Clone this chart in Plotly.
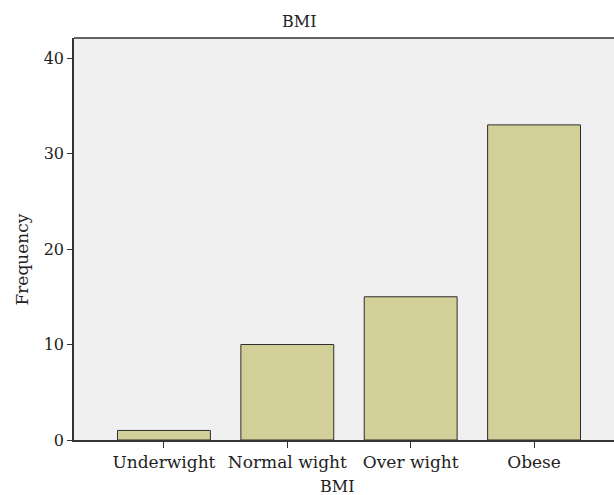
import plotly.graph_objects as go

categories = ["Underwight", "Normal wight", "Over wight", "Obese"]
frequency = [1, 10, 15, 33]
y_ticks = [0, 10, 20, 30, 40]

OFF = 8  # default page body margin
W, H = 614 - OFF + 20, 495 - OFF
L, R, T, B = 73.5 - OFF, 20, 38 - OFF, 495 - 440
pw = W - L - R
ph = H - T - B

def px_x(px):
    return (px - OFF - L) / pw

def px_y(py):
    return 1 - (py - OFF - T) / ph

FONT = "DejaVu Serif"
FS = 16

fig = go.Figure()
fig.add_trace(go.Bar(
    x=list(range(len(categories))),
    y=frequency,
    width=0.753,
    marker=dict(color="#d3cf98", line=dict(color="#2e2e2e", width=1)),
    hoverinfo="skip",
))

fig.update_layout(
    width=W, height=H,
    margin=dict(l=L, r=R, t=T, b=B, pad=0),
    paper_bgcolor="white",
    plot_bgcolor="#f0f0f0",
    showlegend=False,
    font=dict(family=FONT, size=FS, color="#222222"),
    xaxis=dict(
        range=[-0.729, 3.648],
        tickmode="array",
        tickvals=list(range(len(categories))),
        ticktext=categories,
        showgrid=False, zeroline=False,
        showline=True, linecolor="#333333", linewidth=1.5,
        mirror=False,
        ticks="outside", ticklen=6, tickcolor="#333333", tickwidth=1.2,
        tickfont=dict(family=FONT, size=FS + 1, color="#222222"),
        fixedrange=True,
    ),
    yaxis=dict(
        range=[0, 42.1],
        tickmode="array",
        tickvals=y_ticks,
        showgrid=False, zeroline=False,
        showline=True, linecolor="#333333", linewidth=1.5,
        mirror=False,
        ticks="outside", ticklen=5, tickcolor="#333333", tickwidth=1.2,
        tickfont=dict(family=FONT, size=FS, color="#222222"),
        fixedrange=True,
    ),
    shapes=[dict(type="line", xref="paper", yref="paper", x0=0, x1=1, y0=1, y1=1,
                 line=dict(color="#333333", width=1.5))],
    annotations=[
        dict(text="BMI", xref="paper", yref="paper", x=px_x(298.5), y=px_y(22),
             showarrow=False, xanchor="center", yanchor="middle",
             font=dict(family=FONT, size=FS, color="#222222")),
        dict(text="BMI", xref="paper", yref="paper", x=px_x(337), y=px_y(486),
             showarrow=False, xanchor="center", yanchor="middle",
             font=dict(family=FONT, size=FS, color="#222222")),
        dict(text="Frequency", xref="paper", yref="paper", x=px_x(21), y=px_y(260),
             showarrow=False, xanchor="center", yanchor="middle", textangle=-90,
             font=dict(family=FONT, size=FS + 1, color="#222222")),
    ],
)

fig.write_html(
    "out.html",
    config={"displayModeBar": False},
    post_script="document.documentElement.style.overflow='hidden';document.body.style.overflow='hidden';document.body.style.margin='8px -40px 0 8px';",
)
